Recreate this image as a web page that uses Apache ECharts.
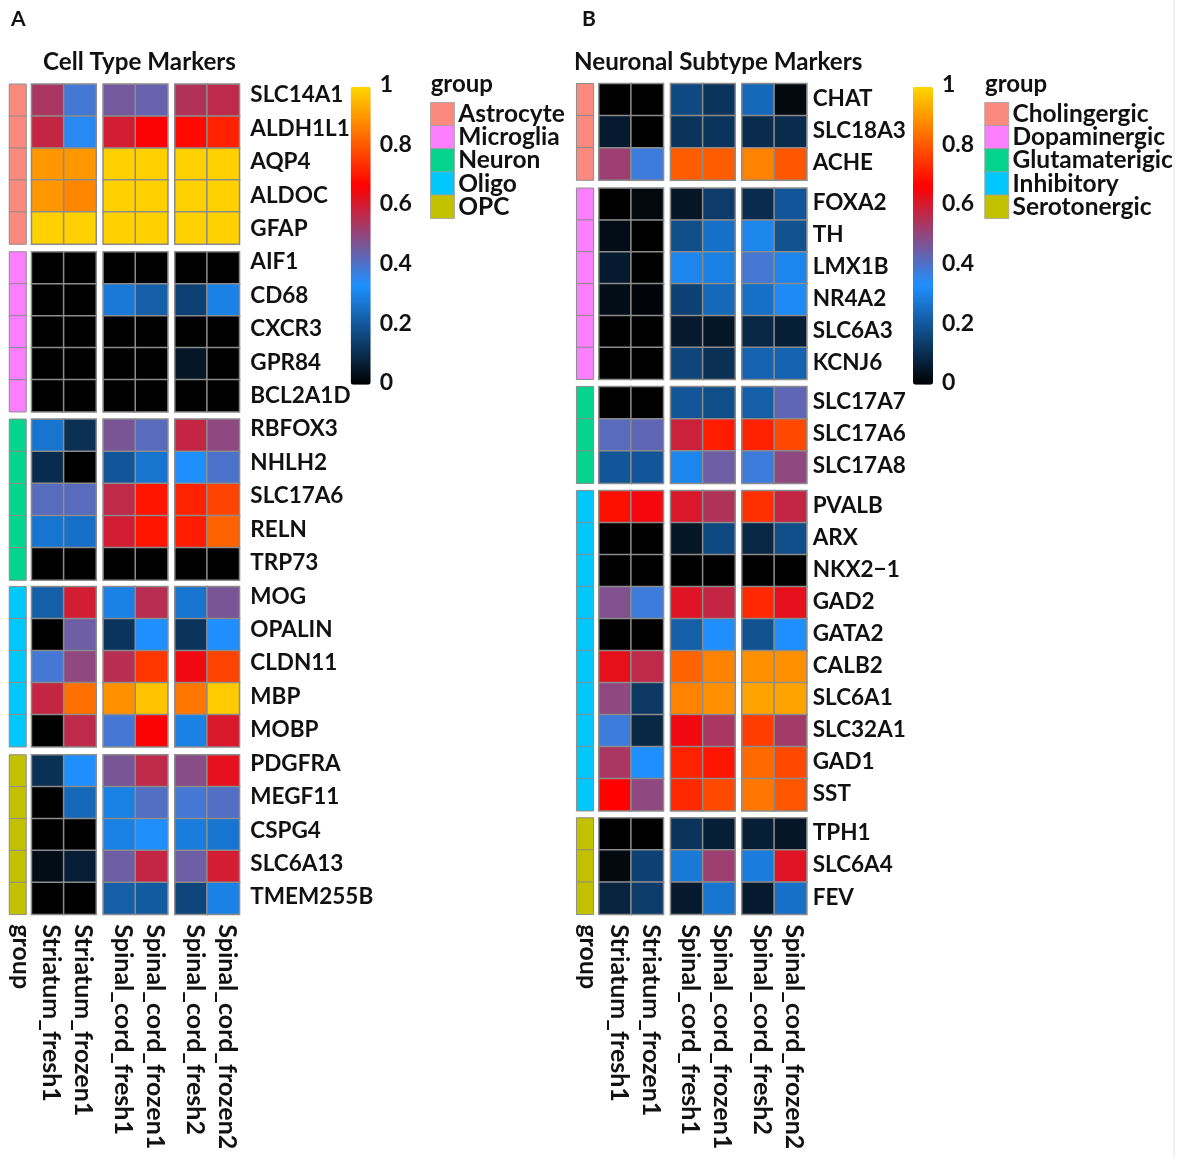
<!DOCTYPE html>
<html><head><meta charset="utf-8">
<style>html,body{margin:0;padding:0;background:#fff}#c{width:1181px;height:1159px}</style>
<script src="https://cdn.jsdelivr.net/npm/echarts@6/dist/echarts.min.js"></script>
</head><body><div id="c"></div>
<script>
const sampleNames = ['Striatum_fresh1','Striatum_frozen1','Spinal_cord_fresh1','Spinal_cord_frozen1','Spinal_cord_fresh2','Spinal_cord_frozen2'];
const colorRampStops = ['#000000','#1E90FF','#FF0000','#FFD700'];
const groupColors = ['#FB8A7E','#FB7FFF','#04D48E','#00C8FD','#C3C000'];
const colorbarTicks = [0,0.2,0.4,0.6,0.8,1];

const groupNamesA = ['Astrocyte','Microglia','Neuron','Oligo','OPC'];
const genesA = [
 ['SLC14A1','ALDH1L1','AQP4','ALDOC','GFAP'],
 ['AIF1','CD68','CXCR3','GPR84','BCL2A1D'],
 ['RBFOX3','NHLH2','SLC17A6','RELN','TRP73'],
 ['MOG','OPALIN','CLDN11','MBP','MOBP'],
 ['PDGFRA','MEGF11','CSPG4','SLC6A13','TMEM255B']];
const valuesA = [
 [[.54,.39,.46,.44,.55,.57],[.58,.35,.60,.66,.68,.72],[.90,.90,.99,.99,.99,.99],[.90,.875,.99,.99,.99,.99],[.99,.99,.99,.99,.99,.99]],
 [[0,0,0,0,0,0],[0,0,.28,.22,.15,.30],[0,0,0,0,0,0],[0,0,0,0,.05,0],[0,0,0,0,0,0]],
 [[.27,.11,.47,.42,.58,.50],[.10,0,.20,.27,.33,.40],[.42,.42,.57,.70,.72,.77],[.27,.26,.60,.70,.71,.82],[0,0,0,0,0,0]],
 [[.22,.60,.30,.56,.27,.47],[0,.45,.12,.33,.12,.33],[.39,.50,.56,.75,.645,.77],[.58,.84,.89,.97,.85,.98],[0,.57,.39,.66,.30,.61]],
 [[.11,.33,.47,.57,.49,.63],[0,.24,.30,.41,.39,.41],[0,0,.30,.33,.29,.27],[.03,.07,.45,.58,.45,.60],[0,0,.22,.21,.16,.30]]];

const groupNamesB = ['Cholingergic','Dopaminergic','Glutamaterigic','Inhibitory','Serotonergic'];
const genesB = [
 ['CHAT','SLC18A3','ACHE'],
 ['FOXA2','TH','LMX1B','NR4A2','SLC6A3','KCNJ6'],
 ['SLC17A7','SLC17A6','SLC17A8'],
 ['PVALB','ARX','NKX2\u22121','GAD2','GATA2','CALB2','SLC6A1','SLC32A1','GAD1','SST'],
 ['TPH1','SLC6A4','FEV']];
const valuesB = [
 [[0,0,.17,.12,.24,.02],[.06,0,.12,.12,.10,.10],[.52,.38,.81,.81,.87,.80]],
 [[0,.02,.05,.14,.10,.20],[.03,0,.18,.26,.31,.19],[.06,0,.31,.30,.39,.31],[.03,.01,.15,.24,.26,.32],[0,0,.06,.05,.09,.07],[0,0,.16,.11,.23,.23]],
 [[0,0,.20,.18,.22,.43],[.42,.43,.59,.71,.72,.78],[.20,.20,.31,.45,.38,.50]],
 [[.69,.65,.61,.55,.74,.58],[0,0,.05,.17,.09,.18],[0,0,0,0,0,0],[.48,.38,.62,.58,.73,.63],[0,0,.22,.33,.19,.33],[.63,.57,.82,.87,.89,.89],[.50,.13,.87,.89,.92,.92],[.38,.09,.645,.54,.76,.53],[.54,.33,.72,.70,.83,.78],[.67,.50,.73,.78,.85,.80]],
 [[0,0,.12,.07,.07,.05],[.02,.15,.28,.52,.29,.62],[.08,.14,.06,.27,.06,.26]]];

const FONT = 'Lato';
const BORDER = '#8c8c8c';
const grid=[],xAxis=[],yAxis=[],series=[],visualMap=[],title=[];

function addGrid(left,top,width,height,xCfg,yCfg){
  grid.push({left,top,width,height,containLabel:false,show:false});
  const i=grid.length-1;
  const off={axisLine:{show:false},axisTick:{show:false},splitLine:{show:false},splitArea:{show:false}};
  xAxis.push(Object.assign({gridIndex:i,type:'category'},off,xCfg));
  yAxis.push(Object.assign({gridIndex:i,type:'category',inverse:true},off,yCfg));
  return i;
}
const noLabel={axisLabel:{show:false}};
const xLab={show:true,rotate:-90,interval:0,hideOverlap:false,margin:10,fontFamily:FONT,fontSize:25,fontWeight:'bold',color:'#111'};
const X_LABEL_SHIFT=3.5;

function panel(cfg){
  const heatIdx=[];
  const bottom=cfg.rowBlocks[cfg.rowBlocks.length-1][1];
  // sample-name labels sit in their own thin grids below the last row block
  addGrid(cfg.groupX[0]+X_LABEL_SHIFT,bottom-1,cfg.groupX[1]-cfg.groupX[0],1,{data:['group'],position:'bottom',axisLabel:xLab},Object.assign({data:['']},noLabel));
  cfg.colBlocks.forEach((cb,c)=>{
    addGrid(cb[0]+X_LABEL_SHIFT,bottom-1,cb[1]-cb[0],1,{data:sampleNames.slice(c*2,c*2+2),position:'bottom',axisLabel:xLab},Object.assign({data:['']},noLabel));
  });
  cfg.rowBlocks.forEach((rb,b)=>{
    const genes=cfg.genes[b];
    const gi=addGrid(cfg.groupX[0],rb[0],cfg.groupX[1]-cfg.groupX[0],rb[1]-rb[0],
      Object.assign({data:['group']},noLabel),Object.assign({data:genes},noLabel));
    series.push({type:'heatmap',xAxisIndex:gi,yAxisIndex:gi,progressive:0,
      data:genes.map((g,r)=>[0,r,b]),
      itemStyle:{color:groupColors[b],borderColor:BORDER,borderWidth:1},emphasis:{disabled:true}});
    cfg.colBlocks.forEach((cb,c)=>{
      const names=sampleNames.slice(c*2,c*2+2);
      const hi=addGrid(cb[0],rb[0],cb[1]-cb[0],rb[1]-rb[0],
        Object.assign({data:names},noLabel),Object.assign({data:genes},noLabel));
      const data=[];
      genes.forEach((g,r)=>{[0,1].forEach(k=>data.push([k,r,cfg.values[b][r][c*2+k]]));});
      heatIdx.push(series.length);
      series.push({type:'heatmap',xAxisIndex:hi,yAxisIndex:hi,progressive:0,data,
        itemStyle:{borderColor:BORDER,borderWidth:1.5},emphasis:{disabled:true}});
    });
  });
  cfg.labelBlocks.forEach(lb=>{
    addGrid(cfg.colBlocks[2][1],lb.top,1,lb.height,Object.assign({data:['']},noLabel),
      {data:lb.genes,position:'right',axisLabel:{show:true,interval:0,hideOverlap:false,margin:cfg.labelMargin,align:'left',
        fontFamily:FONT,fontSize:22.5,fontWeight:'bold',color:'#111'}});
  });
  visualMap.push({type:'continuous',min:0,max:1,seriesIndex:heatIdx,left:cfg.barX,top:86.7,itemWidth:20,itemHeight:298,
    padding:0,calculable:false,hoverLink:false,text:null,showLabel:false,inRange:{color:colorRampStops}});
  const g=grid.length;
  grid.push({left:cfg.barX,top:84.5,width:20,height:298.5,show:false});
  xAxis.push({gridIndex:g,type:'category',data:[''],show:false});
  yAxis.push({gridIndex:g,type:'value',min:0,max:1,interval:0.2,position:'right',
    axisLine:{show:false},axisTick:{show:false},splitLine:{show:false},
    axisLabel:{show:true,margin:9,fontFamily:FONT,fontSize:23,fontWeight:'bold',color:'#111',
      customValues:colorbarTicks,formatter:v=>String(+v.toFixed(1))}});
  const lg=addGrid(cfg.legendX,102.7,23.5,115.6,Object.assign({data:['group']},noLabel),
    {data:cfg.groupNames,position:'right',axisLabel:{show:true,interval:0,hideOverlap:false,margin:4,align:'left',
      fontFamily:FONT,fontSize:24.5,fontWeight:'bold',color:'#111'}});
  series.push({type:'heatmap',xAxisIndex:lg,yAxisIndex:lg,progressive:0,
    data:cfg.groupNames.map((n,r)=>({value:[0,r,r],itemStyle:{color:groupColors[r]}})),
    itemStyle:{borderColor:'#a0a0a0',borderWidth:0.8},emphasis:{disabled:true}});
  const t=(text,left,top,size,weight)=>title.push({text,left,top,padding:0,textStyle:{fontFamily:FONT,fontSize:size,fontWeight:weight,color:'#111'}});
  t(cfg.letter,cfg.letterX,9,21,'bold');
  t(cfg.heading,cfg.headingX,50,24.2,'bold');
  t('group',cfg.legendX,72,24,'bold');
}

panel({letter:'A',letterX:11,heading:'Cell Type Markers',headingX:43,genes:genesA,values:valuesA,groupNames:groupNamesA,
  groupX:[9.5,26],colBlocks:[[31.7,96],[103.3,167.7],[175,239.3]],
  rowBlocks:[[84.3,244],[252,411.7],[419.3,580],[586.7,746.7],[755,914.3]],
  labelBlocks:[{top:78.3,height:835.5,genes:genesA.flat()}],labelMargin:10,
  barX:350.7,legendX:430.7});
const rowsB=[[83.7,180],[188.3,379.3],[386.7,483.3],[490.7,810.7],[818,914.3]];
panel({letter:'B',letterX:582,heading:'Neuronal Subtype Markers',headingX:574,genes:genesB,values:valuesB,groupNames:groupNamesB,
  groupX:[576.7,593.3],colBlocks:[[599,663.3],[670.7,735],[742,806.7]],
  rowBlocks:rowsB,
  labelBlocks:rowsB.map((r,i)=>({top:r[0]-1,height:r[1]-r[0],genes:genesB[i]})),labelMargin:5,
  barX:913,legendX:985});

const chart=echarts.init(document.getElementById('c'),null,{renderer:'canvas'});
chart.setOption({animation:false,backgroundColor:'#fff',tooltip:{show:false},grid,xAxis,yAxis,series,visualMap,title,
  graphic:[{type:'line',shape:{x1:1174,y1:0,x2:1174,y2:1159},style:{stroke:'#eeeeee',lineWidth:1.5},silent:true}]});
</script></body></html>
